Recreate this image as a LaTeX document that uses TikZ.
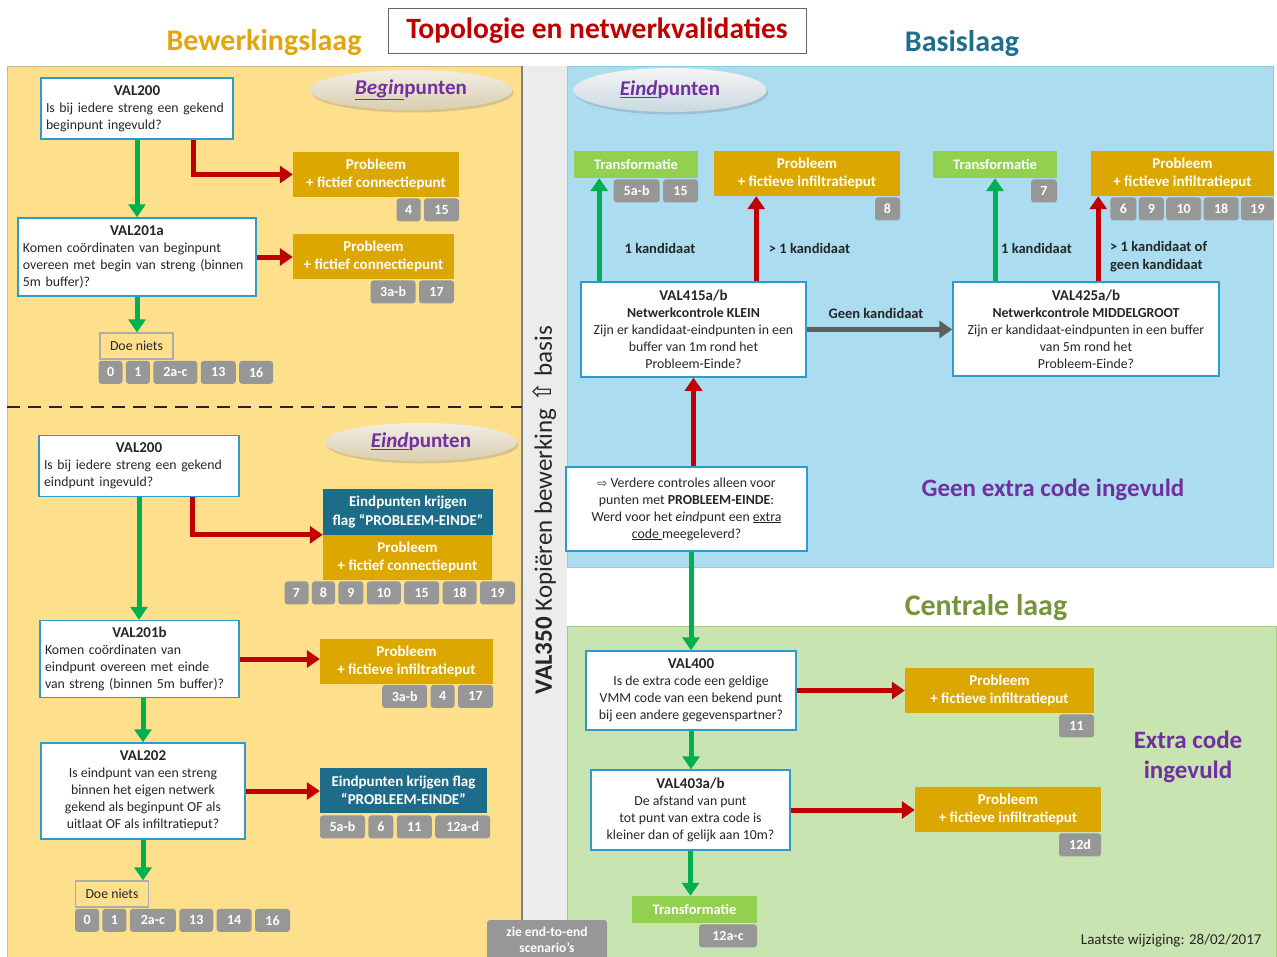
\documentclass[tikz,border=0pt]{standalone}
\usepackage{fontspec}
\setmainfont{Carlito}
\newfontfamily\symfont{DejaVu Sans}
\usetikzlibrary{positioning,arrows.meta,shapes.geometric,shadows}

\definecolor{bewgeel}{HTML}{FEDF8C}
\definecolor{bewrand}{HTML}{C9B98F}
\definecolor{basisblauw}{HTML}{ABDCF0}
\definecolor{basisrand}{HTML}{8CCBE6}
\definecolor{centraalgroen}{HTML}{C7E4B1}
\definecolor{centraalrand}{HTML}{A3CC87}
\definecolor{bandgrijs}{HTML}{ECECEC}
\definecolor{vraagrand}{HTML}{2E9CCA}
\definecolor{probgoud}{HTML}{DCA700}
\definecolor{vlagteal}{HTML}{1D6C8A}
\definecolor{transgroen}{HTML}{92D050}
\definecolor{labelgrijs}{HTML}{979797}
\definecolor{pijlgroen}{HTML}{00B050}
\definecolor{pijlrood}{HTML}{C00000}
\definecolor{pijlgrijs}{HTML}{5E5E5E}
\definecolor{titelgoud}{HTML}{E2A50E}
\definecolor{titelteal}{HTML}{1F6E8C}
\definecolor{titelgroen}{HTML}{77933C}
\definecolor{paars}{HTML}{7030A0}
\definecolor{tekst}{HTML}{262626}

\newcommand{\valkop}[1]{{\fontsize{15}{17}\selectfont\bfseries #1}}

\begin{document}
\begin{tikzpicture}[x=1pt, y=-1pt,
  vraag/.style={draw=vraagrand, line width=1.5pt, fill=white, text=tekst,
    inner xsep=8pt, inner ysep=2pt, font=\fontsize{13.8}{17}\selectfont},
  vraagl/.style={vraag, align=left, inner xsep=5pt},
  vraagc/.style={vraag, align=center},
  probleem/.style={fill=probgoud, text=white, align=center, inner sep=0pt,
    font=\bfseries\fontsize{15}{18}\selectfont},
  vlag/.style={probleem, fill=vlagteal},
  transfo/.style={probleem, fill=transgroen, minimum height=27pt,
    font=\bfseries\fontsize{14.5}{17}\selectfont},
  codenr/.style={fill=labelgrijs, rounded corners=3pt, text=white,
    inner xsep=8pt, inner ysep=0pt, minimum height=23pt, minimum width=#1,
    font=\bfseries\fontsize{14}{16}\selectfont},
  codenr/.default=24pt,
  doeniets/.style={draw=labelgrijs!80, line width=1.3pt, fill=bewgeel, text=tekst,
    minimum width=73pt, minimum height=26pt, inner sep=0pt,
    font=\fontsize{13.8}{17}\selectfont},
  groen/.style={draw=pijlgroen, line width=5pt, -{Triangle[width=17pt,length=13pt]}},
  rood/.style={groen, draw=pijlrood},
  grijs/.style={groen, draw=pijlgrijs},
  bol/.style={ellipse, drop shadow={opacity=0.3,shadow xshift=1.5pt,shadow yshift=-2.5pt},
    text=paars, inner sep=0pt, font=\bfseries\fontsize{21}{24}\selectfont},
  keuze/.style={text=tekst, align=left, inner sep=0pt,
    font=\bfseries\fontsize{14.5}{18}\selectfont},
  laag/.style={font=\bfseries\fontsize{30}{34}\selectfont},
  codetekst/.style={text=paars, align=center, font=\bfseries\fontsize{25}{30}\selectfont}]

  \useasboundingbox (0,0) rectangle (1277,956);
  \clip (0,0) rectangle (1277,956);

  % lagen
  \fill[bewgeel] (7,66) rectangle (522,960);
  \draw[bewrand, line width=1pt] (7,960) -- (7,66) -- (522,66);
  \fill[bandgrijs] (522,66) rectangle (567,960);
  \draw[gray, line width=1.2pt] (522,66) -- (522,960);
  \draw[basisrand, line width=1pt, fill=basisblauw] (567,66) rectangle (1273,567);
  \draw[centraalrand, line width=1pt, fill=centraalgroen] (567,626) rectangle (1276,960);
  \draw[tekst, line width=2.5pt, dash pattern=on 13pt off 8pt] (7,407) -- (522,407);

  % titels
  \node[draw=gray!80!black, line width=1pt, fill=white, minimum width=418pt,
    minimum height=45pt, text=pijlrood, font=\bfseries\fontsize{29.5}{32}\selectfont]
    (titel) at (597,30.5) {Topologie en netwerkvalidaties};
  \node[laag, text=titelgoud] (bewerking) at (264,43) {Bewerkingslaag};
  \node[laag, text=titelteal] (basis) at (962,44) {Basislaag};
  \node[laag, text=titelgroen] (centraal) at (986,608) {Centrale laag};
  \node[codetekst] (geenextra) at (1053,490) {Geen extra code ingevuld};
  \node[codetekst] (extracode) at (1188,757) {Extra code\\ingevuld};
  \node[anchor=east, text=tekst, font=\fontsize{15}{18}\selectfont]
    (datum) at (1265,941) {Laatste wijziging: 28/02/2017};
  \node[rotate=90, text=tekst, font=\fontsize{25}{30}\selectfont] (kopie) at (544.5,510)
    {\textbf{VAL350} Kopiëren bewerking {\symfont ⇧} basis};

  \node[bol, minimum width=202pt, minimum height=40pt, top color=white!60!bewrand!60!white,
    bottom color=bewrand!70!white] (beginbol) at (411,90) {\underline{\textit{Begin}}punten};
  \node[bol, minimum width=192pt, minimum height=38pt, top color=white!60!bewrand!60!white,
    bottom color=bewrand!70!white] (eindbolL) at (421,442) {\underline{\textit{Eind}}punten};
  \node[bol, minimum width=193pt, minimum height=44pt, top color=gray!8,
    bottom color=basisrand!60!gray!45] (eindbolR) at (670,90) {\underline{\textit{Eind}}punten};

  % beginpunten
  \node[vraagl, text width=182pt, minimum height=61pt] (begin200) at (137,108.5)
    {\makebox[\linewidth]{\valkop{VAL200}}\\Is bij iedere streng een gekend\\beginpunt ingevuld?};
  \node[vraagl, text width=228pt, minimum height=78pt] (begin201a) at (137,257)
    {\makebox[\linewidth]{\valkop{VAL201a}}\\Komen coördinaten van beginpunt\\overeen met begin van streng (binnen\\5m buffer)?};
  \node[probleem, minimum width=166pt, minimum height=45pt] (prob1) at (376,174.5)
    {Probleem\\+ fictief connectiepunt};
  \node[probleem, minimum width=161pt, minimum height=45pt] (prob2) at (373.5,256.5)
    {Probleem\\+ fictief connectiepunt};
  \node[doeniets] (niets1) at (136.5,346) {Doe niets};

  \node[codenr=35pt, anchor=north east] (p1n15) at ([yshift=-1pt]prob1.south east) {15};
  \node[codenr, left=3pt of p1n15] (p1n4) {4};
  \node[codenr=35pt, anchor=north east] (p2n17) at ([yshift=-1pt]prob2.south east) {17};
  \node[codenr=45pt, left=3pt of p2n17] (p2n3ab) {3a-b};
  \node[codenr, anchor=north west] (n1n0) at ([xshift=-1pt,yshift=-1pt]niets1.south west) {0};
  \node[codenr, right=3pt of n1n0] (n1n1) {1};
  \node[codenr=44pt, right=3pt of n1n1] (n1n2ac) {2a-c};
  \node[codenr=35pt, right=3pt of n1n2ac] (n1n13) {13};
  \node[codenr=34pt, right=3pt of n1n13] (n1n16) {16};

  \draw[groen] (begin200) -- (begin201a);
  \draw[rood] ([xshift=56pt]begin200.south) |- (prob1.west);
  \draw[rood] (begin201a.east) -- (begin201a.east -| prob2.west);
  \draw[groen] (begin201a.south) -- (begin201a.south |- niets1.north);

  % eindpunten bewerkingslaag
  \node[vraagl, text width=190pt, minimum height=61pt] (eind200) at (139,466)
    {\makebox[\linewidth]{\valkop{VAL200}}\\Is bij iedere streng een gekend\\eindpunt ingevuld?};
  \node[vraagl, text width=189pt, minimum height=77pt] (eind201b) at (139.5,659)
    {\makebox[\linewidth]{\valkop{VAL201b}}\\Komen coördinaten van\\eindpunt overeen met einde\\van streng (binnen 5m buffer)?};
  \node[vraagc, minimum width=204pt, minimum height=96pt] (val202) at (143,791)
    {\valkop{VAL202}\\Is eindpunt van een streng\\binnen het eigen netwerk\\gekend als beginpunt OF als\\uitlaat OF als infiltratieput?};
  \node[vlag, minimum width=170pt, minimum height=46pt] (vlag1) at (408,512)
    {Eindpunten krijgen\\flag “PROBLEEM-EINDE”};
  \node[probleem, minimum width=169pt, minimum height=45pt] (prob3) at (407.5,557.5)
    {Probleem\\+ fictief connectiepunt};
  \node[probleem, minimum width=173pt, minimum height=45pt] (prob4) at (406.5,661)
    {Probleem\\+ fictieve infiltratieput};
  \node[vlag, minimum width=167pt, minimum height=45pt] (vlag2) at (403.5,790.5)
    {Eindpunten krijgen flag\\“PROBLEEM-EINDE”};
  \node[doeniets] (niets2) at (112,894) {Doe niets};

  \node[codenr=35pt, anchor=north east] (p3n19) at ([xshift=23pt,yshift=-1pt]prob3.south east) {19};
  \node[codenr=34pt, left=3pt of p3n19] (p3n18) {18};
  \node[codenr=35pt, left=3pt of p3n18] (p3n15) {15};
  \node[codenr=34pt, left=3pt of p3n15] (p3n10) {10};
  \node[codenr=25pt, left=3pt of p3n10] (p3n9) {9};
  \node[codenr=23pt, left=3pt of p3n9] (p3n8) {8};
  \node[codenr, left=3pt of p3n8] (p3n7) {7};
  \node[codenr=35pt, anchor=north east] (p4n17) at ([yshift=-1pt]prob4.south east) {17};
  \node[codenr, left=3pt of p4n17] (p4n4) {4};
  \node[codenr=45pt, left=3pt of p4n4] (p4n3ab) {3a-b};
  \node[codenr=45pt, anchor=north west] (v2n5ab) at ([yshift=-2pt]vlag2.south west) {5a-b};
  \node[codenr=25pt, right=3pt of v2n5ab] (v2n6) {6};
  \node[codenr=35pt, right=3pt of v2n6] (v2n11) {11};
  \node[codenr=55pt, right=3pt of v2n11] (v2n12ad) {12a-d};
  \node[codenr, anchor=north west] (n2n0) at ([yshift=-1pt]niets2.south west) {0};
  \node[codenr, right=3pt of n2n0] (n2n1) {1};
  \node[codenr=46pt, right=3pt of n2n1] (n2n2ac) {2a-c};
  \node[codenr=34pt, right=3pt of n2n2ac] (n2n13) {13};
  \node[codenr=35pt, right=3pt of n2n13] (n2n14) {14};
  \node[codenr=35pt, right=3pt of n2n14] (n2n16) {16};

  \draw[groen] (eind200.south) -- (eind200.south |- eind201b.north);
  \draw[rood] ([xshift=53pt]eind200.south) |- (prob3.north west);
  \draw[rood] (eind201b.east) -- (eind201b.east -| prob4.west);
  \draw[groen] (eind201b.south -| val202.north) -- (val202.north);
  \draw[rood] (val202.east) -- (val202.east -| vlag2.west);
  \draw[groen] (val202.south) -- (val202.south |- niets2.north);

  % basislaag
  \node[vraagc, minimum width=225pt, minimum height=95pt] (v415) at (693.5,329.5)
    {\valkop{VAL415a/b}\\\textbf{Netwerkcontrole KLEIN}\\Zijn er kandidaat-eindpunten in een\\buffer van 1m rond het\\Probleem-Einde?};
  \node[vraagc, minimum width=266pt, minimum height=94pt] (v425) at (1086,329)
    {\valkop{VAL425a/b}\\\textbf{Netwerkcontrole MIDDELGROOT}\\Zijn er kandidaat-eindpunten in een buffer\\van 5m rond het\\Probleem-Einde?};
  \node[vraagc, minimum width=241pt, minimum height=84pt] (verdere) at (686.5,509)
    {{\symfont\fontsize{12}{17}\selectfont ⇨} Verdere controles alleen voor\\punten met \textbf{PROBLEEM-EINDE}:\\Werd voor het \textit{eind}punt een \underline{extra}\\\underline{code\ }meegeleverd?};
  \node[transfo, minimum width=124pt] (trans1) at (636,164.5) {Transformatie};
  \node[probleem, minimum width=186pt, minimum height=45pt] (probK) at (807,173.5)
    {Probleem\\+ fictieve infiltratieput};
  \node[transfo, minimum width=124pt] (trans2) at (995,164.5) {Transformatie};
  \node[probleem, minimum width=183pt, minimum height=45pt] (probM) at (1182.5,173.5)
    {Probleem\\+ fictieve infiltratieput};

  \node[codenr=35pt, anchor=north east] (t1n15) at ([yshift=-1pt]trans1.south east) {15};
  \node[codenr=46pt, left=3pt of t1n15] (t1n5ab) {5a-b};
  \node[codenr=25pt, anchor=north east] (pKn8) at ([yshift=-1pt]probK.south east) {8};
  \node[codenr=26pt, anchor=north east] (t2n7) at ([yshift=-1pt]trans2.south east) {7};
  \node[codenr=33pt, anchor=north east] (pMn19) at ([yshift=-1pt]probM.south east) {19};
  \node[codenr=35pt, left=2pt of pMn19] (pMn18) {18};
  \node[codenr=35pt, left=2pt of pMn18] (pMn10) {10};
  \node[codenr=25pt, left=2pt of pMn10] (pMn9) {9};
  \node[codenr=26pt, left=2pt of pMn9] (pMn6) {6};

  \node[keuze] (k415a) at (660,248) {1 kandidaat};
  \node[keuze] (k415b) at (809.5,248) {> 1 kandidaat};
  \node[keuze] (k425a) at (1036.5,248) {1 kandidaat};
  \node[keuze, anchor=west] (k425b) at (1110,257) {> 1 kandidaat of\\geen kandidaat};
  \node[keuze] (geenk) at (876,313) {Geen kandidaat};

  \coordinate (g415) at ([xshift=19pt]v415.north west);
  \coordinate (r415) at ([xshift=176pt]v415.north west);
  \coordinate (r425) at ([xshift=146pt]v425.north west);
  \draw[groen] (g415) -- (g415 |- trans1.south);
  \draw[rood] (r415) -- (r415 |- probK.south);
  \draw[groen] (v425.north -| trans2.south) -- (trans2.south);
  \draw[rood] (r425) -- (r425 |- probM.south);
  \draw[grijs] (v415.east) -- (v415.east -| v425.west);
  \draw[rood] (verdere.north -| v415.south) -- (v415.south);

  % centrale laag
  \node[vraagc, minimum width=210pt, minimum height=79pt] (v400) at (691,690.5)
    {\valkop{VAL400}\\Is de extra code een geldige\\VMM code van een bekend punt\\bij een andere gegevenspartner?};
  \node[vraagc, minimum width=199pt, minimum height=80pt] (v403) at (690.5,810)
    {\valkop{VAL403a/b}\\De afstand van punt\\tot punt van extra code is\\kleiner dan of gelijk aan 10m?};
  \node[probleem, minimum width=189pt, minimum height=45pt] (probA) at (999.5,690.5)
    {Probleem\\+ fictieve infiltratieput};
  \node[probleem, minimum width=186pt, minimum height=45pt] (probB) at (1008,809.5)
    {Probleem\\+ fictieve infiltratieput};
  \node[transfo, minimum width=125pt] (trans3) at (694.5,909.5) {Transformatie};

  \node[codenr=35pt, anchor=north east] (pAn11) at ([yshift=-1pt]probA.south east) {11};
  \node[codenr=42pt, anchor=north east] (pBn12d) at ([yshift=-1pt]probB.south east) {12d};
  \node[codenr=58pt, anchor=north east] (t3n12ac) at ([yshift=-1pt]trans3.south east) {12a-c};
  \node[codenr=120pt, minimum height=40pt, align=center,
    font=\bfseries\fontsize{13.5}{15.5}\selectfont] (scenario) at (547,940)
    {zie end-to-end\\scenario’s};

  \draw[groen] (verdere.south -| v400.north) -- (v400.north);
  \draw[rood] (v400.east) -- (v400.east -| probA.west);
  \draw[groen] (v400.south) -- (v400.south |- v403.north);
  \draw[rood] (v403.east) -- (v403.east -| probB.west);
  \draw[groen] (v403.south) -- (v403.south |- trans3.north);
\end{tikzpicture}
\end{document}
